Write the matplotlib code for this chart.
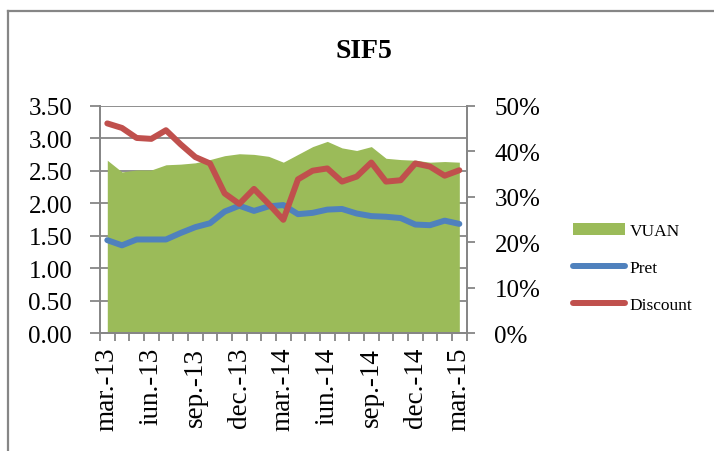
import matplotlib.pyplot as plt
import numpy as np
from matplotlib.lines import Line2D
from matplotlib.patches import Patch

# monthly data mar-13 .. mar-15
months = ['mar.-13', 'apr.-13', 'mai.-13', 'iun.-13', 'iul.-13', 'aug.-13', 'sep.-13',
          'oct.-13', 'nov.-13', 'dec.-13', 'ian.-14', 'feb.-14', 'mar.-14', 'apr.-14',
          'mai.-14', 'iun.-14', 'iul.-14', 'aug.-14', 'sep.-14', 'oct.-14', 'nov.-14',
          'dec.-14', 'ian.-15', 'feb.-15', 'mar.-15']
vuan = [2.66, 2.48, 2.51, 2.51, 2.59, 2.60, 2.62, 2.67, 2.73, 2.76, 2.75, 2.72, 2.63,
        2.75, 2.87, 2.95, 2.85, 2.81, 2.87, 2.69, 2.67, 2.66, 2.63, 2.64, 2.63]
pret = [1.43, 1.35, 1.44, 1.44, 1.44, 1.54, 1.63, 1.69, 1.87, 1.96, 1.88, 1.95, 1.97,
        1.83, 1.85, 1.90, 1.91, 1.84, 1.80, 1.79, 1.77, 1.67, 1.66, 1.73, 1.68]
discount = [46.1, 45.1, 42.9, 42.7, 44.6, 41.5, 38.7, 37.3, 30.7, 28.4, 31.7, 28.4, 24.9,
            33.8, 35.7, 36.2, 33.3, 34.4, 37.5, 33.3, 33.6, 37.3, 36.6, 34.6, 35.8]
left_ticks = [0.0, 0.5, 1.0, 1.5, 2.0, 2.5, 3.0, 3.5]
right_ticks = [0, 10, 20, 30, 40, 50]

green = '#9BBB59'
blue = '#4F81BD'
red = '#C0504D'
grey = '#868686'

plt.rcParams['font.family'] = ['Liberation Serif', 'DejaVu Serif']

fig = plt.figure(figsize=(7.14, 4.52), dpi=100)
ax = fig.add_axes([0.140, 0.261, 0.5136, 0.503])
ax2 = ax.twinx()

x = np.arange(len(months))
ax.fill_between(x, vuan, 0, color=green, linewidth=0, zorder=2)
ax.plot(x, pret, color=blue, lw=4.3, solid_capstyle='round', solid_joinstyle='round', zorder=3)
ax2.plot(x, np.array(discount) / 100, color=red, lw=4.3,
         solid_capstyle='round', solid_joinstyle='round')

ax.set_xlim(-0.5, len(months) - 0.5)
ax.set_ylim(0, 3.5)
ax2.set_ylim(0, 0.5)

ax.set_yticks(left_ticks)
ax.set_yticklabels(['%.2f' % v for v in left_ticks])
ax2.set_yticks([v / 100 for v in right_ticks])
ax2.set_yticklabels(['%d%%' % v for v in right_ticks])

ax.set_axisbelow(True)
ax.grid(axis='y', color=grey, lw=1.3, zorder=0)

lab_idx = list(range(0, len(months), 3))
ax.set_xticks(lab_idx)
ax.set_xticklabels([months[i] for i in lab_idx], rotation=90)
ax.set_xticks(np.arange(-0.5, len(months)), minor=True)
ax.tick_params(axis='x', which='major', length=0, pad=10, labelsize=19.5)
ax.tick_params(axis='x', which='minor', length=6, width=1.3, color=grey)
ax.tick_params(axis='y', length=7, width=1.3, color=grey, pad=13, labelsize=18)
ax2.tick_params(axis='y', length=6, width=1.3, color=grey, pad=14, labelsize=18)

for a in (ax, ax2):
    a.spines['top'].set_visible(False)
    for s in ('left', 'right', 'bottom'):
        a.spines[s].set_color(grey)
        a.spines[s].set_linewidth(1.3)

fig.text(0.510, 0.885, 'SIF5', ha='center', va='center', fontsize=20, fontweight='bold')

handles = [Patch(facecolor=green, edgecolor='none'),
           Line2D([], [], color=blue, lw=4.3, solid_capstyle='round'),
           Line2D([], [], color=red, lw=4.3, solid_capstyle='round')]
fig.legend(handles, ['VUAN', 'Pret', 'Discount'], loc='center left',
           bbox_to_anchor=(0.78, 0.405), frameon=False, fontsize=12.5,
           handlelength=3.0, handletextpad=0.3, labelspacing=1.2)

# chart border (only left and top edges are in frame)
fig.add_artist(Line2D([0.0119, 0.0119], [0.0, 0.9735], color=grey, lw=1.6))
fig.add_artist(Line2D([0.0119, 1.0], [0.9735, 0.9735], color=grey, lw=1.6))

fig.savefig('out.png', dpi=100)
